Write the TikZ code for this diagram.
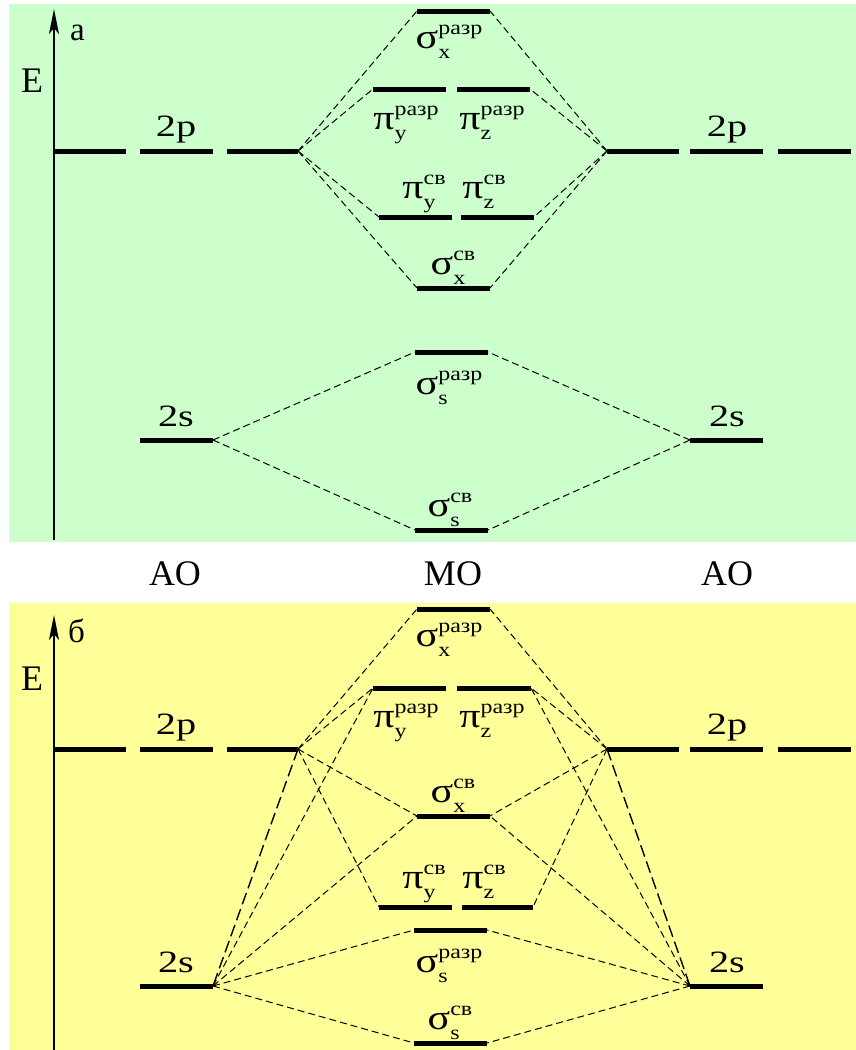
\documentclass[tikz,border=0pt]{standalone}
\usepackage{fontspec}
\usepackage{graphicx}
\setmainfont{Liberation Serif}
\newfontfamily\labfont{Liberation Serif}
\usetikzlibrary{arrows.meta}
\definecolor{bgG}{RGB}{204,255,204}
\definecolor{bgY}{RGB}{255,255,153}
\newcommand\scr{\fontsize{20}{20}\selectfont}
\newcommand\orb[3]{\scalebox{1.2}[1]{\labfont\fontsize{35}{35}\selectfont #1\rlap{\raisebox{14pt}{\scr #3}}\rlap{\raisebox{-10pt}{\scr #2}}\hphantom{\scr #3}}}
\newcommand\ao[1]{\scalebox{1.3}[1]{\labfont\fontsize{31}{31}\selectfont #1}}
\begin{document}
\begin{tikzpicture}[x=1pt,y=-1pt,
  lvl/.style={line width=5pt},
  conn/.style={line width=1pt,dash pattern=on 7pt off 4pt},
  longconn/.style={line width=1.4pt,dash pattern=on 12pt off 5pt},
  axisline/.style={line width=1.8pt,-{Stealth[length=25pt,width=10pt,inset=6pt]}},
  lab/.style={inner sep=0pt,anchor=base},
  big/.style={inner sep=0pt,anchor=base,font=\fontsize{36}{36}\selectfont},
  panel/.style={inner sep=0pt,anchor=base west,font=\fontsize{33}{33}\selectfont}
]
\useasboundingbox (0,0) rectangle (856,1050);
\fill[bgG] (9,4) rectangle (856,542);
\fill[bgY] (9,603) rectangle (856,1050);

% ================= TOP PANEL =================
\coordinate (tAx0) at (54,540);
\coordinate (tAx1) at (54,9);
\draw[axisline] (tAx0) -- (tAx1);
\node[panel] (tA) at (70,40) {a};
\node[big] (tE) at (32,92) {E};

% 2p left
\coordinate (tL1a) at (54,151); \coordinate (tL1b) at (126,151);
\coordinate (tL2a) at (140,151); \coordinate (tL2b) at (213,151);
\coordinate (tL3a) at (227,151); \coordinate (tLp) at (298,151);
\draw[lvl] (tL1a) -- (tL1b); \draw[lvl] (tL2a) -- (tL2b); \draw[lvl] (tL3a) -- (tLp);
% 2p right
\coordinate (tRp) at (607,151); \coordinate (tR1b) at (679,151);
\coordinate (tR2a) at (690,151); \coordinate (tR2b) at (763,151);
\coordinate (tR3a) at (778,151); \coordinate (tR3b) at (851,151);
\draw[lvl] (tRp) -- (tR1b); \draw[lvl] (tR2a) -- (tR2b); \draw[lvl] (tR3a) -- (tR3b);
\node[lab] (t2pL) at (176,136) {\ao{2p}};
\node[lab] (t2pR) at (727,136) {\ao{2p}};
% 2s
\coordinate (tLsa) at (140,440); \coordinate (tLs) at (213,440);
\coordinate (tRs) at (690,440); \coordinate (tRsb) at (763,440);
\draw[lvl] (tLsa) -- (tLs); \draw[lvl] (tRs) -- (tRsb);
\node[lab] (t2sL) at (176,426) {\ao{2s}};
\node[lab] (t2sR) at (727,426) {\ao{2s}};

% MO levels
\coordinate (tSxaL) at (417,11); \coordinate (tSxaR) at (490,11);
\coordinate (tPaL) at (373,89); \coordinate (tPaM1) at (446,89);
\coordinate (tPaM2) at (457,89); \coordinate (tPaR) at (530,89);
\coordinate (tPbL) at (379,217); \coordinate (tPbM1) at (452,217);
\coordinate (tPbM2) at (461,217); \coordinate (tPbR) at (534,217);
\coordinate (tSxbL) at (417,288); \coordinate (tSxbR) at (490,288);
\coordinate (tSsaL) at (415,352); \coordinate (tSsaR) at (488,352);
\coordinate (tSsbL) at (415,530); \coordinate (tSsbR) at (488,530);
\draw[lvl] (tSxaL) -- (tSxaR);
\draw[lvl] (tPaL) -- (tPaM1); \draw[lvl] (tPaM2) -- (tPaR);
\draw[lvl] (tPbL) -- (tPbM1); \draw[lvl] (tPbM2) -- (tPbR);
\draw[lvl] (tSxbL) -- (tSxbR);
\draw[lvl] (tSsaL) -- (tSsaR);
\draw[lvl] (tSsbL) -- (tSsbR);

\node[lab] (tlSxa) at (449,48) {\orb{σ}{x}{разр}};
\node[lab] (tlPya) at (406,129) {\orb{π}{y}{разр}};
\node[lab] (tlPza) at (492,129) {\orb{π}{z}{разр}};
\node[lab] (tlPyb) at (424,198) {\orb{π}{y}{св}};
\node[lab] (tlPzb) at (484,198) {\orb{π}{z}{св}};
\node[lab] (tlSxb) at (453,274) {\orb{σ}{x}{св}};
\node[lab] (tlSsa) at (449,394) {\orb{σ}{s}{разр}};
\node[lab] (tlSsb) at (450,516) {\orb{σ}{s}{св}};

\draw[conn] (tLp) -- (tSxaL);
\draw[conn] (tLp) -- (tPaL);
\draw[conn] (tLp) -- (tPbL);
\draw[conn] (tLp) -- (tSxbL);
\draw[conn] (tRp) -- (tSxaR);
\draw[conn] (tRp) -- (tPaR);
\draw[conn] (tRp) -- (tPbR);
\draw[conn] (tRp) -- (tSxbR);
\draw[conn] (tLs) -- (tSsaL);
\draw[conn] (tLs) -- (tSsbL);
\draw[conn] (tRs) -- (tSsaR);
\draw[conn] (tRs) -- (tSsbR);

% ================= CAPTIONS =================
\node[big] (cAOL) at (175,585) {AO};
\node[big] (cMO) at (453,585) {MO};
\node[big] (cAOR) at (727,585) {AO};

% ================= BOTTOM PANEL =================
\coordinate (bAx0) at (54,1050);
\coordinate (bAx1) at (54,615);
\draw[axisline] (bAx0) -- (bAx1);
\node[panel] (bB) at (68,642) {б};
\node[big] (bE) at (32,690) {E};

\coordinate (bL1a) at (54,749); \coordinate (bL1b) at (126,749);
\coordinate (bL2a) at (140,749); \coordinate (bL2b) at (213,749);
\coordinate (bL3a) at (227,749); \coordinate (bLp) at (298,749);
\draw[lvl] (bL1a) -- (bL1b); \draw[lvl] (bL2a) -- (bL2b); \draw[lvl] (bL3a) -- (bLp);
\coordinate (bRp) at (607,749); \coordinate (bR1b) at (679,749);
\coordinate (bR2a) at (690,749); \coordinate (bR2b) at (763,749);
\coordinate (bR3a) at (778,749); \coordinate (bR3b) at (851,749);
\draw[lvl] (bRp) -- (bR1b); \draw[lvl] (bR2a) -- (bR2b); \draw[lvl] (bR3a) -- (bR3b);
\node[lab] (b2pL) at (176,734) {\ao{2p}};
\node[lab] (b2pR) at (727,734) {\ao{2p}};
\coordinate (bLsa) at (140,986); \coordinate (bLs) at (213,986);
\coordinate (bRs) at (690,986); \coordinate (bRsb) at (763,986);
\draw[lvl] (bLsa) -- (bLs); \draw[lvl] (bRs) -- (bRsb);
\node[lab] (b2sL) at (176,972) {\ao{2s}};
\node[lab] (b2sR) at (727,972) {\ao{2s}};

\coordinate (bSxaL) at (417,609); \coordinate (bSxaR) at (490,609);
\coordinate (bPaL) at (373,688); \coordinate (bPaM1) at (446,688);
\coordinate (bPaM2) at (457,688); \coordinate (bPaR) at (531,688);
\coordinate (bSxbL) at (417,816); \coordinate (bSxbR) at (490,816);
\coordinate (bPbL) at (379,907); \coordinate (bPbM1) at (452,907);
\coordinate (bPbM2) at (462,907); \coordinate (bPbR) at (533,907);
\coordinate (bSsaL) at (414,930); \coordinate (bSsaR) at (487,930);
\coordinate (bSsbL) at (414,1043); \coordinate (bSsbR) at (487,1043);
\draw[lvl] (bSxaL) -- (bSxaR);
\draw[lvl] (bPaL) -- (bPaM1); \draw[lvl] (bPaM2) -- (bPaR);
\draw[lvl] (bSxbL) -- (bSxbR);
\draw[lvl] (bPbL) -- (bPbM1); \draw[lvl] (bPbM2) -- (bPbR);
\draw[lvl] (bSsaL) -- (bSsaR);
\draw[lvl] (bSsbL) -- (bSsbR);

\node[lab] (blSxa) at (449,646) {\orb{σ}{x}{разр}};
\node[lab] (blPya) at (406,727) {\orb{π}{y}{разр}};
\node[lab] (blPza) at (492,727) {\orb{π}{z}{разр}};
\node[lab] (blSxb) at (453,802) {\orb{σ}{x}{св}};
\node[lab] (blPyb) at (424,888) {\orb{π}{y}{св}};
\node[lab] (blPzb) at (484,888) {\orb{π}{z}{св}};
\node[lab] (blSsa) at (449,972) {\orb{σ}{s}{разр}};
\node[lab] (blSsb) at (450,1029) {\orb{σ}{s}{св}};

\draw[conn] (bLp) -- (bSxaL);
\draw[conn] (bLp) -- (bPaL);
\draw[conn] (bLp) -- (bSxbL);
\draw[conn] (bLp) -- (bPbL);
\draw[longconn] (bLp) -- (bLs);
\draw[conn] (bLs) -- (bPaL);
\draw[conn] (bLs) -- (bSxbL);
\draw[conn] (bLs) -- (bSsaL);
\draw[conn] (bLs) -- (bSsbL);
\draw[conn] (bRp) -- (bSxaR);
\draw[conn] (bRp) -- (bPaR);
\draw[conn] (bRp) -- (bSxbR);
\draw[conn] (bRp) -- (bPbR);
\draw[longconn] (bRp) -- (bRs);
\draw[conn] (bRs) -- (bPaR);
\draw[conn] (bRs) -- (bSxbR);
\draw[conn] (bRs) -- (bSsaR);
\draw[conn] (bRs) -- (bSsbR);
\end{tikzpicture}
\end{document}
